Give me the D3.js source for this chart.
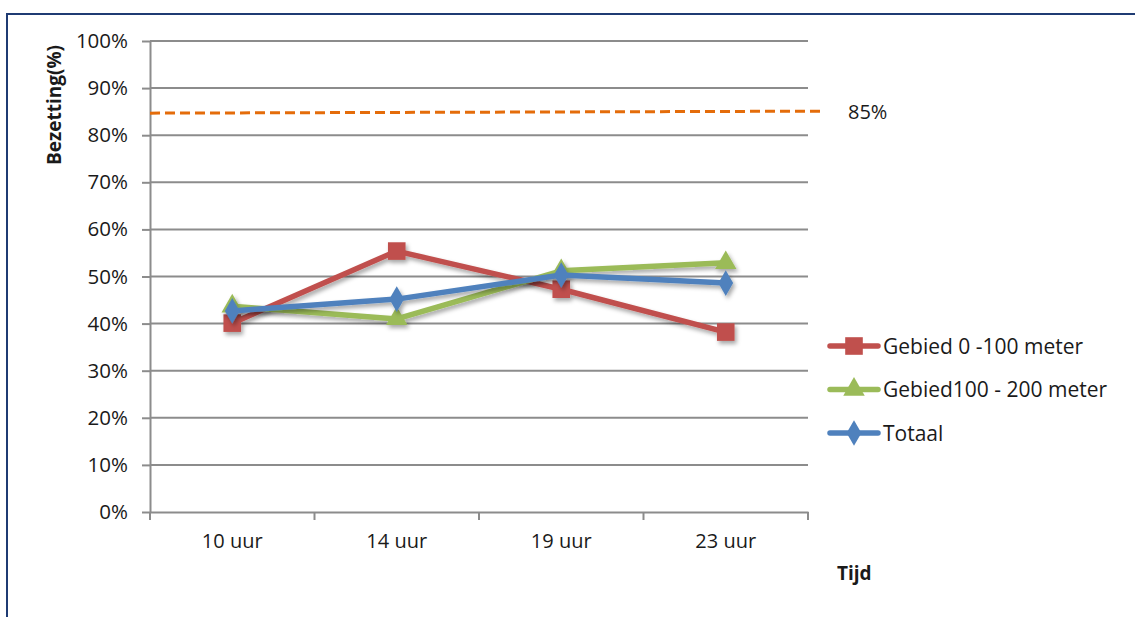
<!DOCTYPE html>
<html>
<head>
<meta charset="utf-8">
<script src="https://cdn.jsdelivr.net/npm/d3@7"></script>
<style>
  body { margin: 0; background: #fff; }
  text { font-family: "Open Sans", "Liberation Sans", sans-serif; fill: #1a1a1a; }
</style>
</head>
<body>
<div id="main"></div>
<script>
// categories and series
const times = ['10 uur', '14 uur', '19 uur', '23 uur'];
const gebied0_100 = [40.1, 55.4, 47.3, 38.2];
const gebied100_200 = [43.7, 41.0, 51.2, 52.9];
const totaal = [42.7, 45.2, 50.3, 48.6];
const yTicks = [0, 10, 20, 30, 40, 50, 60, 70, 80, 90, 100];
const target = 85;

const seriesNames = ['Gebied 0 -100 meter', 'Gebied100 - 200 meter', 'Totaal'];
const seriesColors = ['#C0504D', '#9BBB59', '#4F81BD'];
const seriesShapes = [d3.symbolSquare, d3.symbolTriangle, d3.symbolDiamond];
const seriesSizes = [310, 200, 190];
const seriesValues = [gebied0_100, gebied100_200, totaal];

const width = 1135, height = 617;
const plot = { left: 150, right: 808, top: 41, bottom: 512 };
const font = '"Open Sans", "Liberation Sans", sans-serif';

let svg = d3.select('#main').append('svg')
    .attr('width', width)
    .attr('height', height);

// drop shadow for the lines, like the excel look
let defs = svg.append('defs');
defs.append('filter')
    .attr('id', 'shadow')
    .attr('x', '-10%').attr('y', '-30%')
    .attr('width', '130%').attr('height', '160%')
  .append('feDropShadow')
    .attr('dx', 2).attr('dy', 3)
    .attr('stdDeviation', 2)
    .attr('flood-color', '#000')
    .attr('flood-opacity', 0.35);

// outer frame
svg.append('path')
    .attr('d', `M7,${height + 5} L7,14 L${width + 5},14`)
    .attr('fill', 'none')
    .attr('stroke', '#1F3B73')
    .attr('stroke-width', 2);

const x = d3.scaleBand().domain(times).range([plot.left, plot.right]);
const y = d3.scaleLinear().domain([0, 100]).range([plot.bottom, plot.top]);

// gridlines
svg.append('g')
    .selectAll('line')
    .data(yTicks.filter(d => d > 0))
    .enter()
    .append('line')
        .attr('x1', plot.left).attr('x2', plot.right)
        .attr('y1', d => y(d)).attr('y2', d => y(d))
        .attr('stroke', '#8c8c8c')
        .attr('stroke-width', 2);

// y axis
let yAxis = svg.append('g')
    .attr('transform', `translate(${plot.left},0)`)
    .call(d3.axisLeft(y).tickValues(yTicks).tickFormat(d => d + '%').tickSize(8).tickPadding(14).tickSizeOuter(0));
yAxis.select('.domain').attr('stroke', '#8c8c8c').attr('stroke-width', 2);
yAxis.selectAll('.tick line').attr('stroke', '#8c8c8c').attr('stroke-width', 2);
yAxis.selectAll('.tick text').attr('font-size', 20.5).attr('font-family', font).attr('fill', '#1a1a1a');

// x axis
let xAxis = svg.append('g')
    .attr('transform', `translate(0,${plot.bottom})`)
    .call(d3.axisBottom(x).tickSize(0).tickPadding(22));
xAxis.select('.domain').attr('stroke', '#8c8c8c').attr('stroke-width', 2);
xAxis.selectAll('.tick text').attr('font-size', 20).attr('font-family', font).attr('fill', '#1a1a1a');

// tick marks between categories
const edges = times.map(t => x(t)).concat([x(times[times.length - 1]) + x.bandwidth()]);
svg.append('g')
    .selectAll('line')
    .data(edges)
    .enter()
    .append('line')
        .attr('x1', d => d).attr('x2', d => d)
        .attr('y1', plot.bottom).attr('y2', plot.bottom + 8)
        .attr('stroke', '#8c8c8c')
        .attr('stroke-width', 2);

// axis titles
svg.append('text')
    .attr('transform', 'translate(61,105) rotate(-90)')
    .attr('text-anchor', 'middle')
    .attr('font-size', 19)
    .attr('font-weight', 'bold')
    .text('Bezetting(%)');

svg.append('text')
    .attr('x', 837).attr('y', 580)
    .attr('font-size', 19)
    .attr('font-weight', 'bold')
    .text('Tijd');

// 85% target line
svg.append('line')
    .attr('x1', plot.left).attr('x2', 825)
    .attr('y1', y(target) + 1.5).attr('y2', y(target) - 0.5)
    .attr('stroke', '#E46C0A')
    .attr('stroke-width', 3)
    .attr('stroke-dasharray', '10,5');

svg.append('text')
    .attr('x', 848).attr('y', y(target) + 7)
    .attr('font-size', 20)
    .text(target + '%');

// series lines and markers
const line = d3.line()
    .x((d, i) => x(times[i]) + x.bandwidth() / 2)
    .y(d => y(d));

seriesValues.forEach((vals, s) => {
    let g = svg.append('g').attr('filter', 'url(#shadow)');
    g.append('path')
        .datum(vals)
        .attr('d', line)
        .attr('fill', 'none')
        .attr('stroke', seriesColors[s])
        .attr('stroke-width', 5.5)
        .attr('stroke-linejoin', 'round');
    g.selectAll('.marker')
        .data(vals)
        .enter()
        .append('path')
            .attr('class', 'marker')
            .attr('transform', (d, i) => `translate(${x(times[i]) + x.bandwidth() / 2},${y(d)})`)
            .attr('d', d3.symbol().type(seriesShapes[s]).size(seriesSizes[s]))
            .attr('fill', seriesColors[s]);
});

// legend
let legend = svg.append('g');
seriesNames.forEach((name, s) => {
    const ly = 346 + s * 43.5;
    legend.append('line')
        .attr('x1', 830).attr('x2', 878)
        .attr('y1', ly).attr('y2', ly)
        .attr('stroke', seriesColors[s])
        .attr('stroke-width', 5.5)
        .attr('stroke-linecap', 'round');
    legend.append('path')
        .attr('transform', `translate(854,${ly})`)
        .attr('d', d3.symbol().type(seriesShapes[s]).size(seriesSizes[s]))
        .attr('fill', seriesColors[s]);
    legend.append('text')
        .attr('x', 883).attr('y', ly + 7.5)
        .attr('font-size', 21)
        .text(name);
});
</script>
</body>
</html>
